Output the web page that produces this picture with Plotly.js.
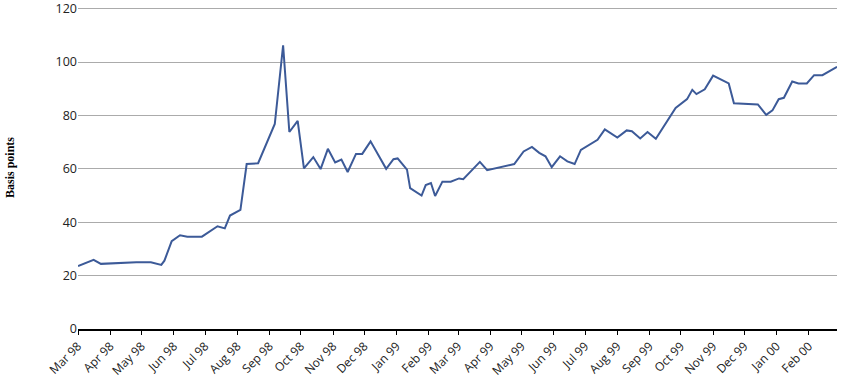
<!DOCTYPE html>
<html>
<head>
<meta charset="utf-8">
<script src="https://cdn.plot.ly/plotly-3.0.1.min.js"></script>
<style>html,body{margin:0;padding:0;background:#fff;}#chart{width:844px;height:382px;}</style>
</head>
<body>
<div id="chart"></div>
<script>
const dates = [
  "1998-03-01","1998-03-16","1998-03-23","1998-04-13","1998-04-26","1998-05-10","1998-05-20","1998-05-23","1998-05-30",
  "1998-06-07","1998-06-14","1998-06-28","1998-07-13","1998-07-20","1998-07-25","1998-08-04","1998-08-10","1998-08-21",
  "1998-09-06","1998-09-14","1998-09-20","1998-09-28","1998-10-04","1998-10-13","1998-10-20","1998-10-27","1998-11-03",
  "1998-11-09","1998-11-15","1998-11-23","1998-11-29","1998-12-07","1998-12-22","1998-12-29","1999-01-02","1999-01-11",
  "1999-01-14","1999-01-25","1999-01-29","1999-02-03","1999-02-07","1999-02-14","1999-02-22","1999-03-02","1999-03-06",
  "1999-03-22","1999-03-29","1999-04-24","1999-05-03","1999-05-11","1999-05-18","1999-05-24","1999-05-30","1999-06-07",
  "1999-06-14","1999-06-21","1999-06-27","1999-07-13","1999-07-20","1999-08-01","1999-08-10","1999-08-15","1999-08-23",
  "1999-08-30","1999-09-07","1999-09-26","1999-10-07","1999-10-12","1999-10-16","1999-10-24","1999-11-01","1999-11-16",
  "1999-11-21","1999-12-14","1999-12-22","1999-12-28","2000-01-03","2000-01-08","2000-01-16","2000-01-22","2000-01-30",
  "2000-02-06","2000-02-14","2000-02-28"
];
const spreads = [
  23.6,25.9,24.4,24.9,25.0,25.0,24.0,25.6,32.9,
  35.1,34.6,34.6,38.5,37.7,42.5,44.6,61.8,62.1,
  76.8,106.3,73.8,78.0,60.2,64.4,59.9,67.5,62.4,
  63.5,58.8,65.6,65.6,70.3,60.0,63.6,63.9,59.7,
  52.8,50.0,53.9,54.7,49.8,55.2,55.2,56.4,56.1,
  62.6,59.5,61.8,66.5,68.2,66.0,64.7,60.6,64.7,
  62.8,61.8,67.1,70.9,74.8,71.7,74.4,74.1,71.4,
  73.8,71.3,82.8,86.1,89.6,88.0,89.8,94.9,92.0,
  84.6,84.1,80.2,81.9,86.1,86.6,92.7,92.0,92.0,
  95.1,95.1,98.2
];
const yTitle = "Basis points";
const yTicks = [0,20,40,60,80,100,120];

const trace = {
  x: dates, y: spreads, type: "scatter", mode: "lines",
  line: {color: "#3c5a98", width: 2}, hoverinfo: "skip"
};
const layout = {
  width: 844, height: 382,
  margin: {l: 78, r: 7, t: 6, b: 53},
  paper_bgcolor: "#fff", plot_bgcolor: "#fff",
  showlegend: false,
  font: {family: "Open Sans, sans-serif", size: 12, color: "#222"},
  xaxis: {
    type: "date",
    range: ["1998-03-01", "2000-02-28"],
    tickmode: "linear", tick0: "1998-03-01", dtick: "M1",
    tickformat: "%b %y", tickangle: -45,
    ticks: "outside", ticklen: 4, tickcolor: "#000", tickwidth: 1,
    showline: true, linecolor: "#000", linewidth: 1.5,
    showgrid: false, zeroline: false,
    tickfont: {size: 12, color: "#222"}
  },
  yaxis: {
    range: [0, 121], tickvals: yTicks,
    showgrid: true, gridcolor: "#ababab", gridwidth: 1,
    zeroline: false, showline: false, ticks: "",
    ticklabeloverflow: "allow",
    tickfont: {size: 12.5, color: "#222"},
    title: {text: yTitle, font: {family: "Liberation Serif, serif", size: 12, color: "#000", weight: "bold"}, standoff: 38}
  }
};
Plotly.newPlot("chart", [trace], layout, {staticPlot: true, displayModeBar: false});
</script>
</body>
</html>
